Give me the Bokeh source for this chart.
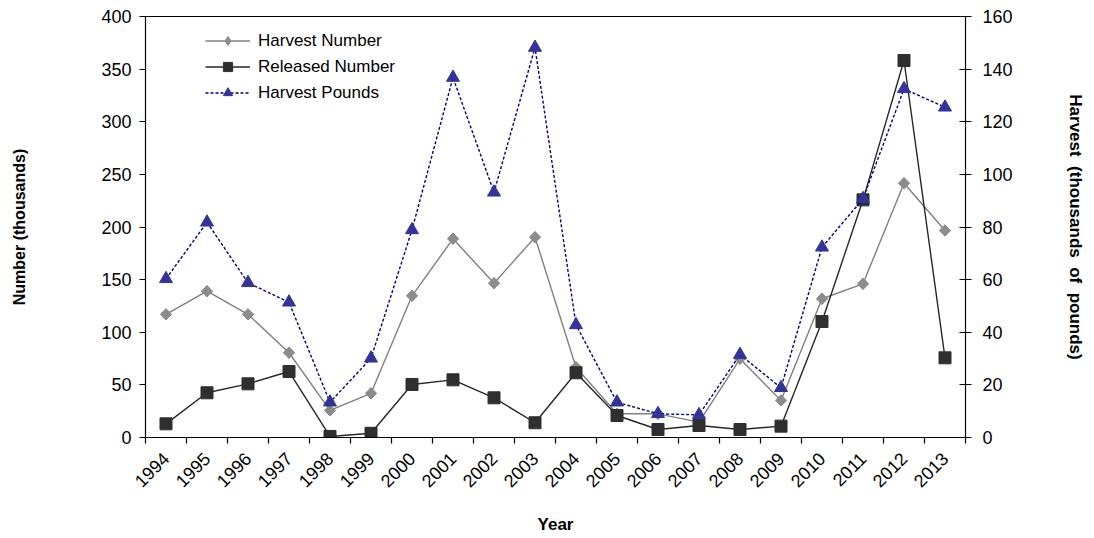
import math
from bokeh.plotting import figure
from bokeh.models import (Range1d, LinearAxis, FixedTicker, SingleIntervalTicker,
                          Legend, LegendItem)
from bokeh.embed import file_html
from bokeh.resources import INLINE

years = ["1994", "1995", "1996", "1997", "1998", "1999", "2000", "2001", "2002", "2003",
         "2004", "2005", "2006", "2007", "2008", "2009", "2010", "2011", "2012", "2013"]
harvest_number = [117, 139, 117, 80.5, 25.7, 42, 134.6, 188.8, 146.6, 190.3,
                  66.8, 22.5, 22.5, 14.6, 74.8, 35.2, 131.8, 146, 241.6, 196.7]
released_number = [13, 42.5, 51, 62.7, 1, 4, 50.4, 54.8, 37.7, 14,
                   61.5, 20.9, 7.6, 11.4, 7.6, 10.8, 110.2, 225.8, 358.2, 75.7]
harvest_pounds = [60.3, 81.8, 58.8, 51.4, 13.4, 30.1, 78.9, 136.8, 93.2, 148.2,
                  42.8, 13.4, 9.0, 8.6, 31.5, 18.9, 72.3, 90.7, 132.5, 125.5]

# category centres on a numeric axis (ticks sit at category boundaries)
xpos = [i + 0.5 for i in range(len(years))]

FONT = "Liberation Sans"

p = figure(width=1094, height=537, output_backend="svg", toolbar_location=None,
           x_range=Range1d(0, len(years)), y_range=Range1d(0, 400),
           min_border_left=145, min_border_right=129, min_border_top=16,
           min_border_bottom=100, y_axis_location=None, x_axis_location=None)
p.extra_y_ranges = {"lbs": Range1d(0, 160)}
p.xgrid.visible = False
p.ygrid.visible = False
p.outline_line_color = "black"
p.outline_line_width = 1
p.background_fill_color = "white"
p.border_fill_color = "white"

# bottom axis
xaxis = LinearAxis(ticker=FixedTicker(ticks=xpos, minor_ticks=list(range(len(years) + 1))),
                   major_label_overrides={x: y for x, y in zip(xpos, years)},
                   axis_label="Year")
xaxis.major_tick_out = 0
xaxis.major_tick_in = 0
xaxis.minor_tick_out = 6
xaxis.minor_tick_in = 0
xaxis.minor_tick_line_color = "black"
xaxis.major_label_orientation = math.pi / 4
xaxis.major_label_standoff = 12
xaxis.axis_label_standoff = 19
p.add_layout(xaxis, "below")

# left axis
laxis = LinearAxis(ticker=SingleIntervalTicker(interval=50), axis_label="Number (thousands)")
laxis.major_tick_out = 6
laxis.major_tick_in = 0
laxis.minor_tick_out = 0
laxis.minor_tick_in = 0
laxis.major_label_standoff = 8
laxis.axis_label_standoff = 70
p.add_layout(laxis, "left")

# right axis
raxis = LinearAxis(y_range_name="lbs", ticker=SingleIntervalTicker(interval=20),
                   axis_label="Harvest\u00a0 (thousands\u00a0 of\u00a0 pounds)")
raxis.major_tick_out = 6
raxis.major_tick_in = 6
raxis.minor_tick_out = 0
raxis.minor_tick_in = 0
raxis.major_label_standoff = 11
raxis.axis_label_standoff = 50
p.add_layout(raxis, "right")

for ax in (xaxis, laxis, raxis):
    ax.axis_line_color = "black"
    ax.axis_line_width = 1.2
    ax.major_tick_line_color = "black"
    ax.major_tick_line_width = 1.2
    ax.minor_tick_line_width = 1.2
    ax.major_label_text_font = FONT
    ax.major_label_text_font_size = "18px"
    ax.major_label_text_color = "black"
    ax.axis_label_text_font = FONT
    ax.axis_label_text_font_size = "17px"
    ax.axis_label_text_font_style = "bold"
    ax.axis_label_text_color = "black"
laxis.axis_label_text_font_size = "16px"

# series
l1 = p.line(xpos, harvest_number, line_color="#808080", line_width=1.4)
# narrow diamond (used by the legend) hidden beneath the rotated-square markers
s1_leg = p.scatter(xpos, harvest_number, marker="diamond", size=11,
                   fill_color="#8c8c8c", line_color="#8c8c8c")
s1 = p.scatter(xpos, harvest_number, marker="square", angle=math.pi / 4, size=8,
               fill_color="#8c8c8c", line_color="#8c8c8c")
l2 = p.line(xpos, released_number, line_color="#262626", line_width=1.4)
s2 = p.scatter(xpos, released_number, marker="square", size=12,
               fill_color="#2f2f2f", line_color="#2f2f2f")
l3 = p.line(xpos, harvest_pounds, y_range_name="lbs", line_color="#000080",
            line_width=1.4, line_dash="3 2")
s3 = p.scatter(xpos, harvest_pounds, y_range_name="lbs", marker="triangle", size=13,
               fill_color="#333399", line_color="#333399")

legend = Legend(items=[
    LegendItem(label="Harvest Number", renderers=[l1, s1_leg]),
    LegendItem(label="Released Number", renderers=[l2, s2]),
    LegendItem(label="Harvest Pounds", renderers=[l3, s3]),
], location=(60, 333))
legend.border_line_color = None
legend.background_fill_alpha = 0
legend.padding = 0
legend.margin = 0
legend.spacing = 3
legend.glyph_width = 45
legend.glyph_height = 23
legend.label_height = 23
legend.label_standoff = 8
legend.label_text_font = FONT
legend.label_text_font_size = "17px"
legend.label_text_color = "black"
p.add_layout(legend, "center")

open("out.html", "w").write(file_html(p, INLINE))
